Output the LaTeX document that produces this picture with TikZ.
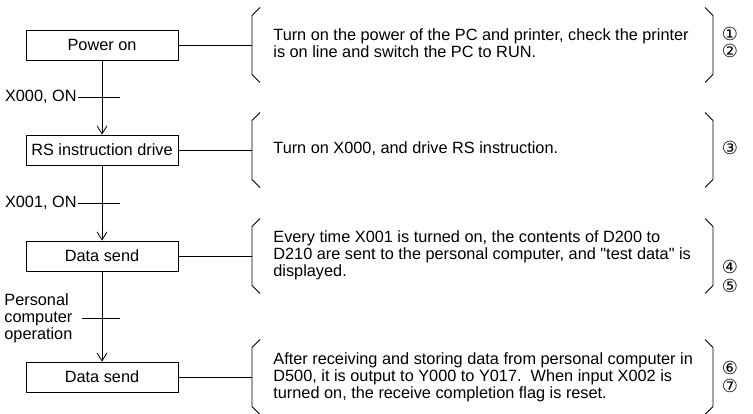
\documentclass[tikz,border=0pt]{standalone}
\usepackage{fontspec}
\setmainfont{Liberation Sans}
\newfontfamily\numfont{DejaVu Sans}
\usetikzlibrary{arrows.meta, positioning}

\begin{document}
\begin{tikzpicture}[x=1pt, y=-1pt, line width=0.8pt,
  txt/.style={font=\fontsize{16.3}{17}\selectfont},
  box/.style={draw, txt, minimum width=152pt, minimum height=30pt, inner sep=0pt},
  note/.style={txt, anchor=west, align=left, inner sep=0pt},
  cond/.style={txt, inner sep=1pt},
  num/.style={font=\numfont\fontsize{18}{17}\selectfont, inner sep=0pt, text height=12pt, text depth=1pt},
  >={Straight Barb[length=8pt,width=10pt]}]
  \useasboundingbox (0,0) rectangle (753,414);

  % steps
  \node[box] (pwr) at (102,45)  {Power on};
  \node[box] (rsd) at (102,150) {RS instruction drive};
  \node[box] (snd) at (102,256) {Data send};
  \node[box] (rcv) at (102,377) {Data send};

  \draw[->] (pwr) -- (rsd);
  \draw[->] (rsd) -- (snd);
  \draw[->] (snd) -- (rcv);

  % conditions
  \node[cond, anchor=east] (c1) at (78,97)  {X000, ON};
  \node[cond, anchor=east] (c2) at (78,203) {X001, ON};
  \node[txt, anchor=west, align=left, inner sep=0pt] (c3) at (4,318) {Personal\\computer\\operation};
  \coordinate (k1) at (120,97);
  \coordinate (k2) at (120,203);
  \coordinate (k3a) at (82,318);
  \coordinate (k3) at (120,318);
  \draw (c1.east) -- (k1);
  \draw (c2.east) -- (k2);
  \draw (k3a) -- (k3);

  % braces
  \foreach \y [count=\i] in {45,150,256,377} {
    \draw (260,\y-37.5) -- (252,\y-29.5) -- (252,\y+29.5) -- (260,\y+37.5);
    \draw (705,\y-37.5) -- (713,\y-29.5) -- (713,\y+29.5) -- (705,\y+37.5);
    \coordinate (b\i) at (252,\y);
  }
  \draw (pwr.east) -- (b1);
  \draw (rsd.east) -- (b2);
  \draw (snd.east) -- (b3);
  \draw (rcv.east) -- (b4);

  % descriptions
  \node[note] (d1) at (273,43.5) {Turn on the power of the PC and printer, check the printer\\is on line and switch the PC to RUN.};
  \node[note] (d2) at (273,149) {Turn on X000, and drive RS instruction.};
  \node[note] (d3) at (273,255) {Every time X001 is turned on, the contents of D200 to\\D210 are sent to the personal computer, and \textquotedbl test data\textquotedbl{} is\\displayed.};
  \node[note] (d4) at (273,377) {After receiving and storing data from personal computer in\\D500, it is output to Y000 to Y017.\ \ When input X002 is\\turned on, the receive completion flag is reset.};

  % step numbers
  \node[num] (n1) at (730,35)  {①};
  \node[num] (n2) at (730,52)  {②};
  \node[num] (n3) at (730,149) {③};
  \node[num] (n4) at (730,268) {④};
  \node[num] (n5) at (730,287) {⑤};
  \node[num] (n6) at (730,369) {⑥};
  \node[num] (n7) at (730,387) {⑦};
\end{tikzpicture}
\end{document}
